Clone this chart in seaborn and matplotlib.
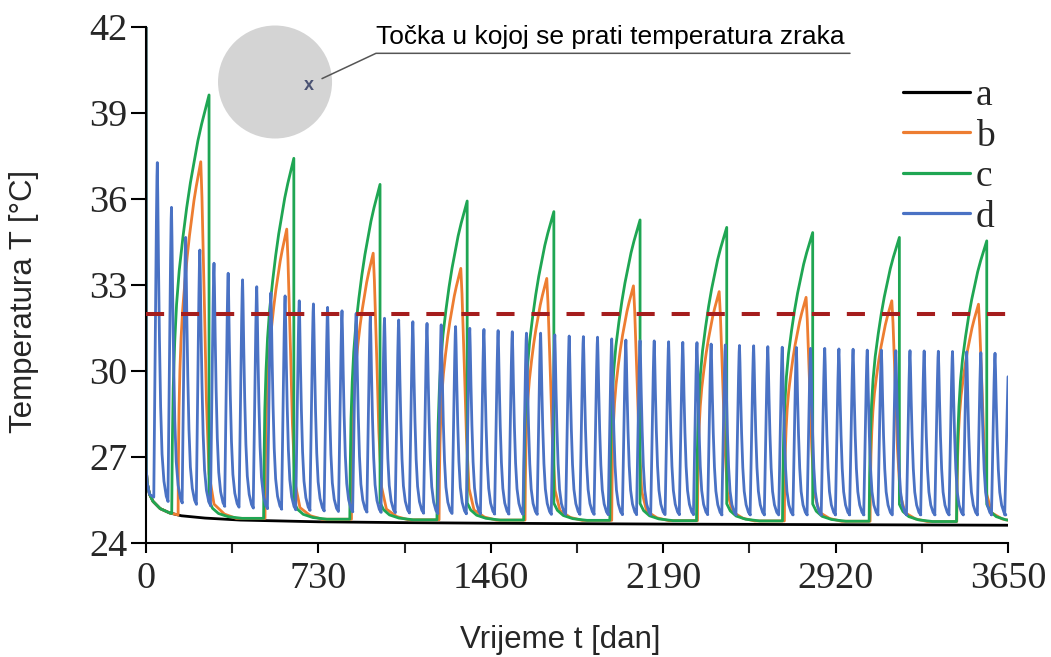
"""
Air temperature at the monitored point over ten years, cases a-d
"""

import numpy as np
import pandas as pd
import matplotlib
matplotlib.use("Agg")
import matplotlib.pyplot as plt
from matplotlib.patches import Ellipse
import seaborn as sns

# Start-up transient, shared by all cases (days, degC)
START_T = [0, 1, 5, 15, 30, 60, 100]
START_VAL = [42.0, 26.6, 26.1, 25.7, 25.45, 25.2, 25.05]

# Case a: plain decay
A_T = [150, 250, 400, 730, 1095, 1460, 2190, 2920, 3650]
A_VAL = [24.95, 24.87, 24.8, 24.74, 24.71, 24.69, 24.66, 24.64, 24.62]

# Case b: yearly heating, peaks
B_RISE_START = [136, 504, 870, 1241, 1605, 1972, 2335, 2703, 3066, 3433]
B_PEAK_T = [232, 596, 962, 1333, 1697, 2064, 2427, 2795, 3158, 3525]
B_PEAK = [37.30, 34.95, 34.11, 33.58, 33.23, 32.97, 32.77, 32.57, 32.45, 32.33]
B_BASE = [24.98, 24.86, 24.83, 24.81, 24.8, 24.79, 24.78, 24.77, 24.76, 24.75]
B_FALL_DT = [0, 5, 11, 16, 24, 35, 56, 100, 150]
B_FALL_FRAC = [1.0, 0.9, 0.73, 0.58, 0.33, 0.125, 0.04, 0.012, 0.0]

# Case c: yearly heating, longer, ends with a sudden drop
C_RISE_START = [109, 498, 863, 1232, 1599, 1964, 2331, 2695, 3062, 3432]
C_PEAK_T = [267, 626, 991, 1360, 1727, 2092, 2459, 2823, 3190, 3560]
C_PEAK = [39.63, 37.42, 36.51, 35.93, 35.56, 35.27, 35.01, 34.83, 34.66, 34.54]
C_BASE = [25.03, 24.86, 24.83, 24.81, 24.8, 24.79, 24.78, 24.77, 24.76, 24.75]
C_TAIL_DT = [0, 15, 40, 80, 140]
C_TAIL_ADD = [0.6, 0.35, 0.17, 0.06, 0.0]

# rise profile of b and c (fraction of rise time -> fraction of rise height)
RISE_SHAPE_T = [0, 0.015, 0.04, 0.08, 0.13, 0.2, 0.3, 0.4, 0.5, 0.6, 0.7, 0.8, 0.9, 1.0]
RISE_SHAPE_V = [0, 0.16, 0.3, 0.41, 0.5, 0.58, 0.66, 0.73, 0.79, 0.84, 0.89, 0.93, 0.965, 1.0]

# Case d: short pulses, six per year
D_PEAK_T = [48, 108, 168, 228, 288, 348, 409, 469, 529, 589,
            649, 709, 769, 830, 890, 950, 1010, 1070, 1130, 1190,
            1250, 1311, 1371, 1431, 1491, 1551, 1611, 1671, 1731, 1792,
            1852, 1912, 1972, 2032, 2092, 2152, 2213, 2273, 2333, 2393,
            2453, 2513, 2573, 2633, 2694, 2754, 2814, 2874, 2934, 2994,
            3054, 3114, 3175, 3235, 3295, 3355, 3415, 3475, 3535, 3595]
D_PEAK = [37.27, 35.71, 34.66, 34.22, 33.76, 33.41, 33.18, 32.94, 32.73, 32.62,
          32.45, 32.34, 32.22, 32.10, 32.01, 31.93, 31.84, 31.78, 31.72, 31.66,
          31.61, 31.55, 31.49, 31.45, 31.41, 31.37, 31.32, 31.32, 31.26, 31.22,
          31.20, 31.18, 31.12, 31.08, 31.06, 31.05, 31.02, 31.00, 30.99, 30.94,
          30.91, 30.89, 30.88, 30.85, 30.83, 30.82, 30.79, 30.79, 30.77, 30.76,
          30.73, 30.73, 30.71, 30.71, 30.70, 30.69, 30.68, 30.67, 30.64, 30.62]
D_TROUGH = [25.6, 25.45, 25.4, 25.35, 25.3, 25.28, 25.25, 25.22, 25.2, 25.18,
            25.16, 25.14, 25.12, 25.1, 25.09, 25.08, 25.07, 25.06, 25.05, 25.04,
            25.03, 25.03, 25.02, 25.02, 25.01, 25.01, 25.0, 25.0, 25.0, 25.0,
            25.0, 25.0, 24.99, 24.99, 24.99, 24.99, 24.99, 24.99, 24.99, 24.99,
            24.98, 24.98, 24.98, 24.98, 24.98, 24.98, 24.98, 24.98, 24.98, 24.98,
            24.98, 24.98, 24.98, 24.98, 24.98, 24.98, 24.98, 24.98, 24.98, 24.98]
D_SHAPE_DT = [-15, -11, -7, -4, -1.5, 0, 2, 5, 9, 14, 20, 28, 38, 46]
D_SHAPE_FRAC = [0, 0.3, 0.6, 0.82, 0.96, 1.0, 0.9, 0.7, 0.48, 0.28, 0.14, 0.06, 0.015, 0]
D_END_T = [3636, 3650]
D_END_VAL = [24.98, 29.8]

THRESHOLD = 32.0
X_TICKS = [0, 730, 1460, 2190, 2920, 3650]
X_MINOR = [365, 1095, 1825, 2555, 3285]
Y_TICKS = [24, 27, 30, 33, 36, 39, 42]

COLORS = {"a": "#000000", "b": "#ed7d31", "c": "#1fa653", "d": "#4a72c4"}


def start_part(t_limit):
    ts = [t for t in START_T if t < t_limit]
    return ts, START_VAL[:len(ts)]


def rise(t0, t1, v0, v1):
    ts = [t0 + f * (t1 - t0) for f in RISE_SHAPE_T]
    vs = [v0 + f * (v1 - v0) for f in RISE_SHAPE_V]
    return ts, vs


def build_a():
    return list(START_T) + A_T, list(START_VAL) + A_VAL


def build_b():
    ts, vs = start_part(B_RISE_START[0])
    for i in range(len(B_PEAK)):
        rt, rv = rise(B_RISE_START[i], B_PEAK_T[i], B_BASE[i], B_PEAK[i])
        ts += rt
        vs += rv
        base = B_BASE[min(i + 1, len(B_BASE) - 1)]
        for dt, f in zip(B_FALL_DT[1:], B_FALL_FRAC[1:]):
            ts.append(B_PEAK_T[i] + dt)
            vs.append(base + f * (B_PEAK[i] - base))
    return ts, vs


def build_c():
    ts, vs = start_part(C_RISE_START[0])
    for i in range(len(C_PEAK)):
        rt, rv = rise(C_RISE_START[i], C_PEAK_T[i], C_BASE[i], C_PEAK[i])
        ts += rt
        vs += rv
        base = C_BASE[min(i + 1, len(C_BASE) - 1)]
        for dt, add in zip(C_TAIL_DT, C_TAIL_ADD):
            ts.append(C_PEAK_T[i] + dt)
            vs.append(base + add)
    return ts, vs


def build_d():
    ts, vs = start_part(D_PEAK_T[0] + D_SHAPE_DT[0] - 5)
    for i in range(len(D_PEAK)):
        lo_rise = D_TROUGH[i]
        lo_fall = D_TROUGH[i + 1] if i + 1 < len(D_TROUGH) else D_END_VAL[0]
        for dt, f in zip(D_SHAPE_DT, D_SHAPE_FRAC):
            base = lo_rise if dt <= 0 else lo_fall
            ts.append(D_PEAK_T[i] + dt)
            vs.append(base + f * (D_PEAK[i] - base))
    return ts + D_END_T, vs + D_END_VAL


sns.set_style("ticks")
plt.rcParams["font.family"] = ["Liberation Serif", "DejaVu Serif"]
SANS = ["Liberation Sans", "DejaVu Sans"]

fig = plt.figure(figsize=(10.51, 6.57), dpi=100)
ax = fig.add_axes([0.1389, 0.1735, 0.8202, 0.7854])

series = {"a": build_a(), "b": build_b(), "c": build_c(), "d": build_d()}
for name, (t, v) in series.items():
    df = pd.DataFrame({"dan": t, "T": v})
    sns.lineplot(data=df, x="dan", y="T", estimator=None, sort=False,
                 color=COLORS[name], linewidth=2.0, label=name, ax=ax)

ax.axhline(THRESHOLD, color="#a51d1d", linewidth=2.9,
           linestyle=(0, (4.5, 4.2)), zorder=5)

ax.set_xlim(0, 3650)
ax.set_ylim(24, 42)
ax.set_xticks(X_TICKS)
ax.set_xticks(X_MINOR, minor=True)
ax.set_yticks(Y_TICKS)
ax.tick_params(axis="both", labelsize=27.5, width=1.5, color="black")
ax.tick_params(axis="y", length=10.5, pad=3)
ax.tick_params(axis="x", which="both", length=7.5, width=1.5, pad=6)
for side in ["left", "bottom"]:
    ax.spines[side].set_linewidth(1.5)
    ax.spines[side].set_color("black")
sns.despine(ax=ax)

ax.set_xlabel("Vrijeme t [dan]", fontsize=22.5, family=SANS)
ax.set_ylabel("Temperatura T [°C]", fontsize=22.5, family=SANS)
ax.xaxis.set_label_coords(0.481, -0.158)
ax.xaxis.label.set_va("top")
ax.yaxis.set_label_coords(-0.1415, 0.469)
ax.yaxis.label.set_va("center")

# legend on the right, no frame
handles, labels = ax.get_legend_handles_labels()
leg = ax.legend(handles, labels, loc="upper left", bbox_to_anchor=(0.878, 0.9),
                frameon=False, prop={"family": "Liberation Serif", "size": 27},
                handlelength=1.8, handletextpad=0.15, labelspacing=0.16,
                borderpad=0, borderaxespad=0)
for line in leg.get_lines():
    line.set_linewidth(2.3)

# sketch of the cross-section with the monitored point
ax.add_patch(Ellipse((0.1497, 0.8934), 0.1323, 0.219, transform=ax.transAxes,
                     facecolor="#d4d4d4", edgecolor="none", clip_on=False, zorder=6))
ax.text(0.189, 0.8857, "x", transform=ax.transAxes, ha="center", va="center",
        fontsize=13, fontweight="bold", color="#4b5373", family=SANS, zorder=7)
ax.plot([0.2042, 0.2668, 0.8167], [0.9000, 0.9490, 0.9490], transform=ax.transAxes,
        color="#555555", linewidth=1.1, clip_on=False, zorder=7)
ax.text(0.2668, 0.9663, "Točka u kojoj se prati temperatura zraka",
        transform=ax.transAxes, ha="left", va="baseline", fontsize=19,
        family=SANS, color="black", zorder=7)

fig.savefig("out.png", dpi=100)
plt.close(fig)
